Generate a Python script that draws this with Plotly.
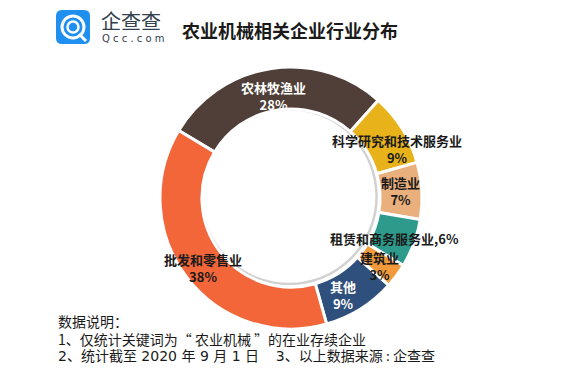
import plotly.graph_objects as go

W, H = 580, 376

# ---- data ----
categories = ["农林牧渔业", "科学研究和技术服务业", "制造业", "租赁和商务服务业",
              "建筑业", "其他", "批发和零售业"]
shares = [28, 9, 7, 6, 3, 9, 38]
slice_colors = ["#4f3f38", "#e8b21a", "#e9b07d", "#2e9a8b", "#f39a3c", "#2f4f7d", "#f2663a"]

title_text = "农业机械相关企业行业分布"
note_lines = ["数据说明：",
              "1、仅统计关键词为“ 农业机械 ”的在业存续企业",
              "2、统计截至 2020 年 9 月 1 日\u2003\u20093、以上数据来源\u2009:\u2009企查查"]

FONT = "Noto Sans CJK SC"
NOTE_FONTS = [FONT, FONT, "DejaVu Sans, Noto Sans CJK SC"]


def px(x):
    return x / W


def py(y):
    return 1 - y / H


# ---- pie geometry (pixels) ----
cx, cy, r = 291, 198, 131
hole = 0.68

fig = go.Figure(go.Pie(
    labels=categories,
    values=shares,
    sort=False,
    direction="clockwise",
    rotation=-59,
    hole=hole,
    marker=dict(colors=slice_colors, line=dict(color="white", width=3)),
    textinfo="none",
    hoverinfo="label+percent",
    showlegend=False,
    domain=dict(x=[px(cx - r), px(cx + r)], y=[py(cy + r), py(cy - r)]),
))

# ---- slice labels (positions are layout only) ----
label_pos = {
    "农林牧渔业": (273, 96, "white", False),
    "科学研究和技术服务业": (397, 149, "#1a1a1a", False),
    "制造业": (400, 191, "#1a1a1a", False),
    "租赁和商务服务业": (394, 238, "#1a1a1a", True),
    "建筑业": (379, 266, "#1a1a1a", False),
    "其他": (343, 295, "white", False),
    "批发和零售业": (203, 268, "#1a1a1a", False),
}
annotations = []
for name, val in zip(categories, shares):
    x, y, col, inline = label_pos[name]
    txt = f"<b>{name},{val}%</b>" if inline else f"<b>{name}</b><br><b>{val}%</b>"
    annotations.append(dict(
        x=px(x), y=py(y), xref="paper", yref="paper", text=txt, showarrow=False,
        font=dict(family=FONT, size=13, color=col), align="center",
        xanchor="center", yanchor="middle",
    ))

# title
annotations.append(dict(
    x=px(290), y=py(30), xref="paper", yref="paper", text=f"<b>{title_text}</b>",
    showarrow=False, font=dict(family=FONT, size=18, color="#1a1a1a"),
    xanchor="center", yanchor="middle"))

# logo text
annotations.append(dict(
    x=px(99), y=py(20), xref="paper", yref="paper", text="企查查",
    showarrow=False, font=dict(family=FONT, size=20, color="#33404d"),
    xanchor="left", yanchor="middle"))
annotations.append(dict(
    x=px(100), y=py(39), xref="paper", yref="paper", text="Q c c . c o m",
    showarrow=False, font=dict(family="DejaVu Sans", size=10, color="#33404d"),
    xanchor="left", yanchor="middle"))

# notes
for i, (line, fam) in enumerate(zip(note_lines, NOTE_FONTS)):
    annotations.append(dict(
        x=px(56), y=py(321 + i * 17.5), xref="paper", yref="paper", text=line,
        showarrow=False, font=dict(family=fam, size=14, color="#1a1a1a"),
        xanchor="left", yanchor="middle"))

# ---- inner shadow + logo shapes ----
ri = r * hole
shapes = [
    dict(type="circle", xref="paper", yref="paper", layer="below",
         x0=px(cx - 2 - ri + 1.5), x1=px(cx - 2 + ri - 1.5),
         y0=py(cy - 1.5 + ri - 1.5), y1=py(cy - 1.5 - ri + 1.5),
         line=dict(color="rgba(90,90,90,0.28)", width=2.5)),
    dict(type="path", xref="paper", yref="paper",
         path=("M {a},{b} L {c},{b} Q {d},{b} {d},{e} L {d},{f} Q {d},{g} {c},{g} "
               "L {a},{g} Q {h},{g} {h},{f} L {h},{e} Q {h},{b} {a},{b} Z").format(
             a=px(62), c=px(84), d=px(90), h=px(56),
             b=py(10), e=py(16), f=py(38), g=py(44)),
         fillcolor="#1f8ff0", line=dict(width=0)),
    dict(type="circle", xref="paper", yref="paper",
         x0=px(62), x1=px(84), y0=py(38), y1=py(16),
         line=dict(color="white", width=3)),
    dict(type="circle", xref="paper", yref="paper",
         x0=px(67.5), x1=px(78.5), y0=py(32.5), y1=py(21.5),
         line=dict(color="white", width=2.5)),
    dict(type="line", xref="paper", yref="paper",
         x0=px(79), y0=py(34), x1=px(86), y1=py(41),
         line=dict(color="white", width=3)),
]

fig.update_layout(
    width=W, height=H,
    margin=dict(l=0, r=0, t=0, b=0),
    paper_bgcolor="white", plot_bgcolor="white",
    annotations=annotations, shapes=shapes,
    font=dict(family=FONT),
)

fig.write_html(
    "out.html",
    config={"displayModeBar": False},
    post_script="document.body.style.margin='0';document.body.style.overflow='hidden';",
)
